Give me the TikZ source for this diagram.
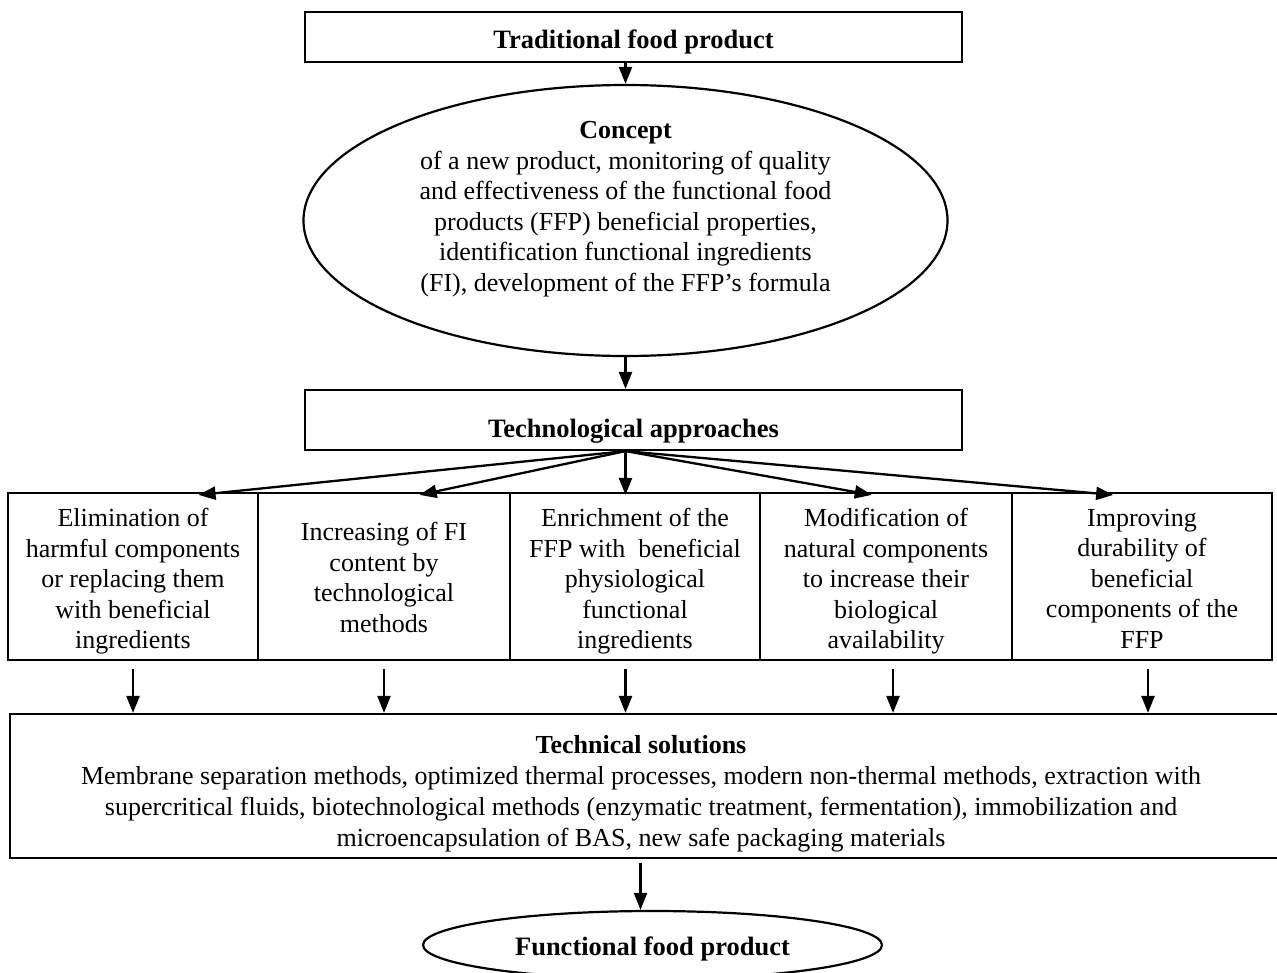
\documentclass[tikz,border=0pt]{standalone}
\usepackage{fontspec}
\setmainfont{Liberation Serif}
\usetikzlibrary{arrows.meta,shapes.geometric,calc}
\begin{document}
\begin{tikzpicture}[x=1pt,y=-1pt,
  every node/.style={font=\fontsize{26}{30.5}\selectfont, align=center, inner sep=0pt},
  box/.style={draw, rectangle, line width=2.2pt},
  oval/.style={draw, ellipse, line width=2.2pt},
  arr/.style={-{Triangle[length=17pt,width=13pt]}, line width=2.3pt},
  hd/.style={font=\fontsize{26.5}{30.5}\selectfont\bfseries}]
\useasboundingbox (0,0) rectangle (1277,972);

% boxes and ovals
\node[box, minimum width=657pt, minimum height=50pt] (trad) at (633.5,37) {};
\node[oval, minimum width=644pt, minimum height=271pt] (concept) at (625.5,220.5) {};
\node[box, minimum width=657pt, minimum height=60pt] (tech) at (633.5,420) {};
\node[box, minimum width=250pt, minimum height=167pt] (b1) at (133,576.5) {};
\node[box, minimum width=252pt, minimum height=167pt] (b2) at (384,576.5) {};
\node[box, minimum width=250pt, minimum height=167pt] (b3) at (635,576.5) {};
\node[box, minimum width=252pt, minimum height=167pt] (b4) at (886,576.5) {};
\node[box, minimum width=260pt, minimum height=167pt] (b5) at (1142,576.5) {};
\node[box, minimum width=1270pt, minimum height=144pt] (ts) at (645,786) {};
\node[oval, minimum width=459pt, minimum height=68pt] (func) at (652.5,945) {};

% texts
\node[hd] (tradtxt) at ([yshift=-5pt]trad.center) {Traditional food product};
\node (concepttxt) at (625.5,209) {\textbf{Concept}\\of a new product, monitoring of quality\\and effectiveness of the functional food\\products (FFP) beneficial properties,\\identification functional ingredients\\(FI), development of the FFP's formula};
\node[hd] (techtxt) at ([yshift=-11pt]tech.center) {Technological approaches};
\node (b1txt) at ([yshift=-5pt]b1.center) {Elimination of\\harmful components\\or replacing them\\with beneficial\\ingredients};
\node (b2txt) at ([yshift=-1pt]b2.center) {Increasing of FI\\content by\\technological\\methods};
\node (b3txt) at ([yshift=-5pt]b3.center) {Enrichment of the\\FFP with\ \ beneficial\\physiological\\functional\\ingredients};
\node (b4txt) at ([yshift=-5pt]b4.center) {Modification of\\natural components\\to increase their\\biological\\availability};
\node (b5txt) at ([yshift=-2pt]b5.center) {Improving\\durability of\\beneficial\\components of the\\FFP};
\node[font=\fontsize{26}{31}\selectfont] (tstxt) at (641,794) {\textbf{Technical solutions}\\Membrane separation methods, optimized thermal processes, modern non-thermal methods, extraction with\\supercritical fluids, biotechnological methods (enzymatic treatment, fermentation), immobilization and\\microencapsulation of BAS, new safe packaging materials};
\node[hd] (functxt) at ([yshift=-4pt]func.center) {Functional food product};

% connectors
\draw[arr] (trad.south -| concept) -- (concept.north);
\draw[arr] (concept.south) -- (tech.north -| concept);

\coordinate (fan) at (tech.south -| concept);
\draw[arr] (fan) -- ([yshift=-3pt]$(b1.north west)!0.76!(b1.north east)$);
\draw[arr] (fan) -- ([yshift=-3pt]$(b2.north west)!0.64!(b2.north east)$);
\draw[arr] (fan) -- ([yshift=-3pt]b3.north -| fan);
\draw[arr] (fan) -- ([yshift=-3pt]$(b4.north west)!0.444!(b4.north east)$);
\draw[arr] (fan) -- ([yshift=-3pt]$(b5.north west)!0.39!(b5.north east)$);

\draw[arr] ([yshift=-8pt]b1.south) -- (b1.south |- ts.north);
\draw[arr] ([yshift=-8pt]b2.south) -- (b2.south |- ts.north);
\draw[arr] ([yshift=-8pt]b3.south -| fan) -- (ts.north -| fan);
\draw[arr] ([yshift=-8pt,xshift=7pt]b4.south) -- ([xshift=7pt]b4.south |- ts.north);
\draw[arr] ([yshift=-8pt,xshift=6pt]b5.south) -- ([xshift=6pt]b5.south |- ts.north);

\draw[arr] ([xshift=-12pt,yshift=-4pt]ts.south -| func) -- ([xshift=-12pt]func.north);
\end{tikzpicture}
\end{document}
